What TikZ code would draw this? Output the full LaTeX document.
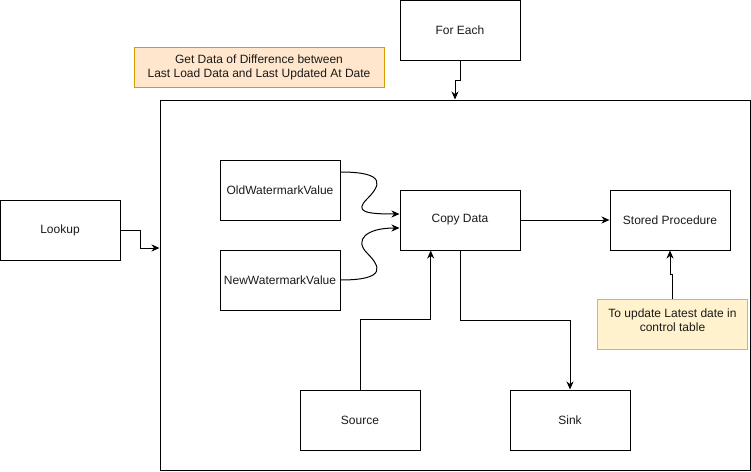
\documentclass[tikz,border=0pt]{standalone}
\usepackage{fontspec}
\setmainfont{Liberation Sans}
\usetikzlibrary{arrows.meta,positioning}
\definecolor{noteAfill}{HTML}{FFE6CC}
\definecolor{noteAline}{HTML}{D79B00}
\definecolor{noteBfill}{HTML}{FFF2CC}
\definecolor{noteBline}{HTML}{D6B656}
\definecolor{txt}{HTML}{1A1A1A}
\tikzset{
  box/.style={draw=black, line width=1pt, fill=white, minimum width=120pt, minimum height=60pt,
    inner sep=0pt, text=txt, font=\fontsize{12}{14}\selectfont},
  noteA/.style={draw=noteAline, fill=noteAfill, line width=1pt, inner sep=0pt, align=center,
    text=txt, font=\fontsize{12}{14}\selectfont},
  noteB/.style={draw=noteBline, fill=noteBfill, line width=1pt, inner sep=0pt, align=center,
    text=txt, font=\fontsize{12}{14}\selectfont},
  arr/.style={draw=black, line width=1pt, -{Stealth[length=8pt,width=7pt,inset=2.5pt]}},
}
\begin{document}
\begin{tikzpicture}[x=1pt,y=-1pt]
  \useasboundingbox (0,0) rectangle (751,471);
  % outer frame for the pipeline activities
  \node[box, minimum width=590pt, minimum height=370pt] (container) at (455,285) {};
  % top-level activities
  \node[box] (foreach) at (460,30) {For Each};
  \node[box] (lookup) at (60,230) {Lookup};
  \node[noteA, minimum width=250pt, minimum height=40pt] (note1) at (259,67)
    {Get Data of Difference between\\Last Load Data and Last Updated At Date};
  % inner activities
  \node[box] (old) at (280,190) {OldWatermarkValue};
  \node[box] (new) at (280,280) {NewWatermarkValue};
  \node[box] (copy) at (460,220) {Copy Data};
  \node[box] (sp) at (670,220) {Stored Procedure};
  \node[box] (source) at (360,420) {Source};
  \node[box] (sink) at (570,420) {Sink};
  \node[noteB, minimum width=150pt, minimum height=50pt] (note2) at (672.5,324) {};
  \node[text=txt, align=center, inner sep=0pt, font=\fontsize{12}{14}\selectfont]
    (note2text) at ([yshift=4pt]note2.center) {To update Latest date in\\control table};
  % connectors
  \draw[arr] (foreach.south) -- ++(0,20) -| (container.north);
  \draw[arr] (lookup.east) -- ++(20,0) |- ([yshift=37pt]container.west);
  \draw[arr] ([yshift=18pt]old.east) .. controls (388,172) and (380,186) .. (367,199)
    .. controls (354,212) and (366,214) .. ([yshift=6pt]copy.west);
  \draw[arr] (new.east) .. controls (388,280) and (380,266) .. (367,253)
    .. controls (354,240) and (366,228) .. ([yshift=-8pt]copy.west);
  \draw[arr] (copy.east) -- (sp.west);
  \draw[arr] (source.north) -- ++(0,-70) -| ([xshift=-29.3pt]copy.south);
  \draw[arr] (copy.south) -- ++(0,70) -| (sink.north);
  \draw[arr] (note2.north) -- ++(0,-24) -| (sp.south);
\end{tikzpicture}
\end{document}
